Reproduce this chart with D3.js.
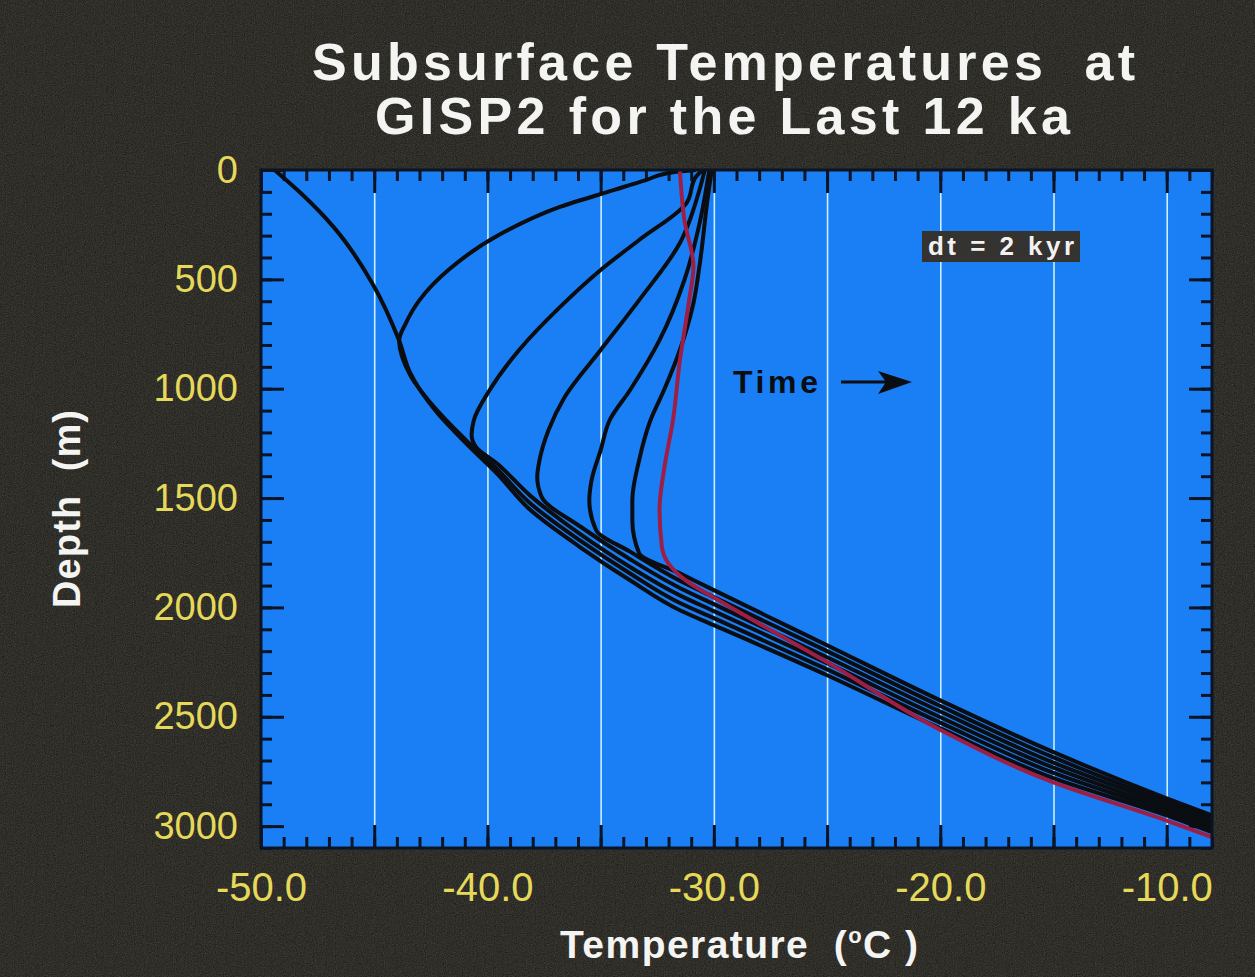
<!DOCTYPE html>
<html>
<head>
<meta charset="utf-8">
<script src="https://cdn.jsdelivr.net/npm/d3@7"></script>
<style>
  body { margin: 0; background: #1c1b18; }
  svg { display: block; }
</style>
</head>
<body>
<svg></svg>
<script>

// -----------------------------
// DATA  (temperature degC, depth m)
// -----------------------------
let profile12ka = [[-49.4,0],[-48.2,110],[-46.8,260],[-45.1,515],[-43.9,780],[-43.4,930],[-42.3,1100],[-40.8,1265],[-39.6,1386],[-38.1,1555],[-35.9,1725],[-33.7,1876],[-31.5,2013],[-30,2081],[-25,2310],[-20,2553],[-15,2781],[-10,2951],[-8,3028]];
let profile10ka = [[-30.8,0],[-31.8,10],[-33.0,46],[-34.4,91],[-36.8,169],[-39.5,297],[-41.7,455],[-43.0,595],[-43.6,700],[-43.9,780],[-43.4,940],[-42.3,1090],[-40.8,1250],[-39.6,1365],[-38.1,1525],[-35.9,1695],[-33.7,1845],[-31.5,1980],[-30,2049],[-25,2283],[-20,2527],[-15,2757],[-10,2935],[-8,3013]];
let profile8ka = [[-30.5,0],[-30.8,32],[-31.2,150],[-33.3,320],[-35.0,457],[-36.8,627],[-38.6,823],[-39.9,1006],[-40.6,1144],[-40.7,1212],[-40.5,1267],[-39.6,1340],[-38.1,1490],[-35.9,1665],[-33.7,1815],[-31.5,1945],[-30,2017],[-25,2255],[-20,2502],[-15,2733],[-10,2920],[-8,2997]];
let profile6ka = [[-30.4,0],[-30.6,78],[-31.5,334],[-33.3,595],[-35.0,823],[-36.6,1040],[-37.3,1189],[-37.7,1327],[-37.8,1404],[-37.6,1496],[-35.9,1630],[-33.7,1780],[-31.5,1911],[-30,1985],[-25,2228],[-20,2476],[-15,2710],[-10,2904],[-8,2982]];
let profile4ka = [[-30.2,0],[-30.6,229],[-31.3,503],[-32.4,778],[-33.7,1006],[-34.6,1144],[-35.0,1281],[-35.4,1418],[-35.5,1510],[-35.2,1647],[-33.7,1745],[-31.5,1878],[-30,1953],[-25,2200],[-20,2451],[-15,2686],[-10,2889],[-8,2966]];
let profile2ka = [[-30.1,0],[-30.3,151],[-30.6,412],[-30.9,608],[-31.5,823],[-32.2,1006],[-32.8,1144],[-33.3,1327],[-33.6,1510],[-33.6,1601],[-33.3,1752],[-31.5,1844],[-30,1921],[-25,2173],[-20,2425],[-15,2662],[-10,2873],[-8,2951]];
let profileNow = [[-31.5,0],[-31.3,230],[-30.9,440],[-31.1,600],[-31.5,870],[-31.8,1140],[-32.2,1370],[-32.4,1550],[-32.3,1720],[-32.0,1800],[-31.2,1880],[-30,1955],[-25,2250],[-20,2560],[-15,2800],[-10,2975],[-8,3050]];

let blackProfiles = [profile12ka, profile10ka, profile8ka, profile6ka, profile4ka, profile2ka];

let xMajorTicks = [-50, -45, -40, -35, -30, -25, -20, -15, -10];
let xLabelTicks = [-50, -40, -30, -20, -10];
let yMajorTicks = [0, 500, 1000, 1500, 2000, 2500, 3000];

// -----------------------------
// SETUP
// -----------------------------
let width = 1255,
    height = 977;

let plot = { left: 261, right: 1212, top: 170, bottom: 848 };

let svg = d3.select("svg")
            .attr("width", width)
            .attr("height", height)
            .style("font-family", "'Liberation Sans', Arial, Helvetica, sans-serif");

let defs = svg.append("defs");

let grain = defs.append("filter")
                .attr("id", "grain")
                .attr("color-interpolation-filters", "sRGB")
                .attr("x", 0).attr("y", 0)
                .attr("width", "100%").attr("height", "100%");
grain.append("feTurbulence")
     .attr("type", "fractalNoise")
     .attr("baseFrequency", 0.9)
     .attr("numOctaves", 2)
     .attr("seed", 3);
grain.append("feColorMatrix")
     .attr("type", "matrix")
     .attr("values", "0.45 0.45 0.45 0 -0.22  0.45 0.45 0.45 0 -0.22  0.42 0.42 0.42 0 -0.22  0 0 0 0 1");

defs.append("clipPath")
    .attr("id", "plotClip")
    .append("rect")
    .attr("x", plot.left)
    .attr("y", plot.top)
    .attr("width", plot.right - plot.left)
    .attr("height", plot.bottom - plot.top);

// background
svg.append("rect")
   .attr("width", width)
   .attr("height", height)
   .attr("fill", "#1c1b18");

svg.append("rect")
   .attr("width", width)
   .attr("height", height)
   .attr("filter", "url(#grain)")
   .attr("opacity", 0.22);

// -----------------------------
// SCALES
// -----------------------------
let xScale = d3.scaleLinear()
               .domain([-50, -8])
               .range([plot.left, plot.right]);

let yScale = d3.scaleLinear()
               .domain([0, 3100])
               .range([plot.top, plot.bottom]);

// plot area
svg.append("rect")
   .attr("x", plot.left)
   .attr("y", plot.top)
   .attr("width", plot.right - plot.left)
   .attr("height", plot.bottom - plot.top)
   .attr("fill", "#1a7ff4");

// -----------------------------
// GRID (white verticals every 5 degrees)
// -----------------------------
svg.append("g")
   .attr("transform", `translate(0, ${plot.bottom})`)
   .call(d3.axisBottom(xScale)
           .tickValues(xMajorTicks.filter(d => d > -50))
           .tickSize(-(plot.bottom - plot.top))
           .tickFormat(""))
   .call(g => g.select(".domain").remove())
   .call(g => g.selectAll("line")
               .attr("stroke", "#cdeeff")
               .attr("stroke-width", 1.6));

// -----------------------------
// TICKS (drawn inward on all four sides)
// -----------------------------
let tickColor = "#0b1424";
let xMinor = d3.range(-50, -7, 1);
let yMinor = d3.range(0, 3101, 100);

function styleTicks(g) {
  g.select(".domain").remove();
  g.selectAll("line").attr("stroke", tickColor).attr("stroke-width", 3);
}

svg.append("g")
   .attr("transform", `translate(0, ${plot.bottom})`)
   .call(d3.axisBottom(xScale).tickValues(xMinor).tickSize(-11).tickFormat(""))
   .call(styleTicks);
svg.append("g")
   .attr("transform", `translate(0, ${plot.bottom})`)
   .call(d3.axisBottom(xScale).tickValues(xMajorTicks).tickSize(-23).tickFormat(""))
   .call(styleTicks);
svg.append("g")
   .attr("transform", `translate(0, ${plot.top})`)
   .call(d3.axisTop(xScale).tickValues(xMinor).tickSize(-11).tickFormat(""))
   .call(styleTicks);
svg.append("g")
   .attr("transform", `translate(0, ${plot.top})`)
   .call(d3.axisTop(xScale).tickValues(xMajorTicks).tickSize(-23).tickFormat(""))
   .call(styleTicks);

svg.append("g")
   .attr("transform", `translate(${plot.left}, 0)`)
   .call(d3.axisLeft(yScale).tickValues(yMinor).tickSize(-11).tickFormat(""))
   .call(styleTicks);
svg.append("g")
   .attr("transform", `translate(${plot.left}, 0)`)
   .call(d3.axisLeft(yScale).tickValues(yMajorTicks).tickSize(-23).tickFormat(""))
   .call(styleTicks);
svg.append("g")
   .attr("transform", `translate(${plot.right}, 0)`)
   .call(d3.axisRight(yScale).tickValues(yMinor).tickSize(-11).tickFormat(""))
   .call(styleTicks);
svg.append("g")
   .attr("transform", `translate(${plot.right}, 0)`)
   .call(d3.axisRight(yScale).tickValues(yMajorTicks).tickSize(-23).tickFormat(""))
   .call(styleTicks);

// -----------------------------
// TICK LABELS
// -----------------------------
svg.append("g")
   .attr("transform", `translate(0, ${plot.bottom})`)
   .call(d3.axisBottom(xScale).tickValues(xLabelTicks).tickSize(0).tickPadding(25))
   .call(g => g.select(".domain").remove())
   .call(g => g.selectAll("text")
               .attr("fill", "#e6d95a")
               .style("font-size", "40px")
               .style("font-family", "'Liberation Sans', Arial, sans-serif")
               .text(d => d.toFixed(1)));

svg.append("g")
   .attr("transform", `translate(${plot.left}, 0)`)
   .call(d3.axisLeft(yScale).tickValues(yMajorTicks).tickSize(0).tickPadding(23).tickFormat(d3.format("d")))
   .call(g => g.select(".domain").remove())
   .call(g => g.selectAll("text")
               .attr("fill", "#e6d95a")
               .style("font-size", "38px")
               .style("font-family", "'Liberation Sans', Arial, sans-serif"));

// -----------------------------
// PROFILES
// -----------------------------
let line = d3.line()
             .x(d => xScale(d[0]))
             .y(d => yScale(d[1]))
             .curve(d3.curveMonotoneY);

let curves = svg.append("g").attr("clip-path", "url(#plotClip)");

curves.selectAll("path.black")
      .data(blackProfiles)
      .enter()
      .append("path")
      .attr("class", "black")
      .attr("d", line)
      .attr("fill", "none")
      .attr("stroke", "#0a0d12")
      .attr("stroke-width", 4);

curves.append("path")
      .datum(profileNow)
      .attr("d", line)
      .attr("fill", "none")
      .attr("stroke", "#9e1f45")
      .attr("stroke-width", 4);

// frame
svg.append("rect")
   .attr("x", plot.left)
   .attr("y", plot.top)
   .attr("width", plot.right - plot.left)
   .attr("height", plot.bottom - plot.top)
   .attr("fill", "none")
   .attr("stroke", tickColor)
   .attr("stroke-width", 3);

// -----------------------------
// ANNOTATIONS
// -----------------------------
svg.append("rect")
   .attr("x", 922)
   .attr("y", 231)
   .attr("width", 158)
   .attr("height", 31)
   .attr("fill", "#34332f");

svg.append("text")
   .attr("x", 928)
   .attr("y", 255)
   .attr("textLength", 146)
   .attr("lengthAdjust", "spacing")
   .attr("fill", "#f2f2f2")
   .style("font-size", "26px")
   .style("font-weight", "bold")
   .text("dt = 2 kyr");

svg.append("text")
   .attr("x", 733)
   .attr("y", 393)
   .attr("textLength", 85)
   .attr("lengthAdjust", "spacing")
   .attr("fill", "#0a0d12")
   .style("font-size", "32px")
   .style("font-weight", "bold")
   .text("Time");

svg.append("line")
   .attr("x1", 841)
   .attr("y1", 382)
   .attr("x2", 895)
   .attr("y2", 382)
   .attr("stroke", "#0a0d12")
   .attr("stroke-width", 3);

svg.append("path")
   .attr("d", "M912,382 L878,371 L886,382 L878,394 Z")
   .attr("fill", "#0a0d12");

// -----------------------------
// TITLES
// -----------------------------
svg.append("text")
   .attr("x", 312)
   .attr("y", 80)
   .attr("textLength", 823)
   .attr("lengthAdjust", "spacing")
   .attr("fill", "#f4f4f2")
   .style("font-size", "52px")
   .style("font-weight", "bold")
   .style("white-space", "pre")
   .text("Subsurface Temperatures  at");

svg.append("text")
   .attr("x", 375)
   .attr("y", 134)
   .attr("textLength", 695)
   .attr("lengthAdjust", "spacing")
   .attr("fill", "#f4f4f2")
   .style("font-size", "52px")
   .style("font-weight", "bold")
   .text("GISP2 for the Last 12 ka");

let xTitle = svg.append("text")
                .attr("x", 560)
                .attr("y", 958)
                .attr("textLength", 358)
                .attr("lengthAdjust", "spacing")
                .attr("fill", "#f4f4f2")
                .style("font-size", "39px")
                .style("font-weight", "bold")
                .style("white-space", "pre");
xTitle.append("tspan").text("Temperature  (");
xTitle.append("tspan").attr("dy", -15).style("font-size", "22px").text("o");
xTitle.append("tspan").attr("dy", 15).text("C )");

svg.append("text")
   .attr("transform", "translate(80, 608) rotate(-90)")
   .attr("textLength", 198)
   .attr("lengthAdjust", "spacing")
   .attr("fill", "#f4f4f2")
   .style("font-size", "38px")
   .style("font-weight", "bold")
   .style("white-space", "pre")
   .text("Depth  (m)");

</script>
</body>
</html>
